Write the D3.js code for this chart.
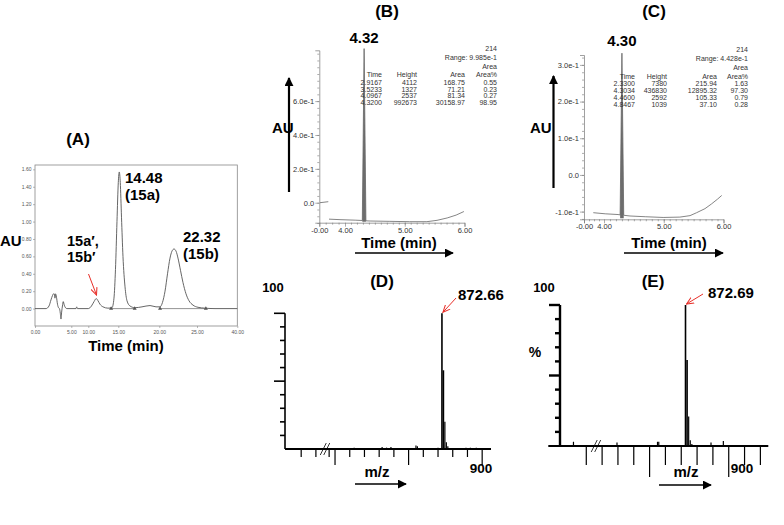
<!DOCTYPE html>
<html>
<head>
<meta charset="utf-8">
<script src="https://cdn.jsdelivr.net/npm/d3@7"></script>
<style>
  body { margin: 0; background: #fff; }
  svg { display: block; font-family: "Liberation Sans", Arial, sans-serif; }
</style>
</head>
<body>
<div id="graph"></div>
<script>
// Data ///////////////////////////////////////////////////////////////////////

// (A) preparative HPLC trace
const aTickTimes = [0, 5, 10, 15, 20, 25, 40];
const aTickAU = [0, 0.2, 0.4, 0.6, 0.8, 1.0, 1.2, 1.4, 1.6];
const aTime = [0, 1.52, 1.93, 2.2, 2.41, 2.55, 2.69, 2.75, 2.82, 2.96, 3.1, 3.24, 3.37, 3.48, 3.58, 3.67, 3.78, 3.89, 4.03, 4.2, 4.41,
  6.38, 6.59, 6.79, 10, 10.53, 10.95, 11.33, 11.62, 11.95, 12.45, 13.28, 13.95, 14.28, 14.53, 14.78, 15.0, 15.12, 15.24, 15.39,
  15.57, 15.82, 16.06, 16.43, 17.04, 17.89, 18.87, 19.6, 20.09, 20.42, 20.76, 21.09, 21.42, 21.68, 21.95, 22.22, 22.48, 22.81,
  23.14, 23.54, 23.94, 24.47, 25.37, 27.98, 31.7, 40];
const aAU = [0, 0, 0.03, 0.1, 0.15, 0.17, 0.165, 0.12, 0.17, 0.13, 0.05, 0.01, 0, -0.05, -0.12, -0.04, 0.03, 0.08, 0.04, 0.01, 0,
  0, 0.02, 0, 0, 0.03, 0.08, 0.115, 0.09, 0.05, 0.02, 0.005, 0.01, 0.12, 0.45, 1.0, 1.45, 1.57, 1.45, 1.05,
  0.6, 0.25, 0.09, 0.03, 0.01, 0.02, 0.035, 0.02, 0.02, 0.07, 0.2, 0.4, 0.58, 0.66, 0.685, 0.66, 0.58, 0.44,
  0.3, 0.17, 0.09, 0.04, 0.015, 0.005, 0, 0];
const aIntegration = [[13.8, 17.0], [20.1, 28.3]];

// (B) analytical HPLC of 15a
const bTickTimes = [0, 4, 5, 6];
const bTickTimeLabels = ["-0.00", "4.00", "5.00", "6.00"];
const bTickAU = [0, 0.2, 0.4, 0.6];
const bTickAULabels = ["0.0", "2.0e-1", "4.0e-1", "6.0e-1"];
const bTime = [1.51, 3.22, 4.17, 4.29, 4.32, 4.35, 4.42, 4.75, 5.08, 5.37, 5.54, 5.71, 5.86, 5.99];
const bAU = [-0.097, -0.1, -0.103, -0.105, 0.91, -0.107, -0.108, -0.11, -0.112, -0.112, -0.104, -0.09, -0.073, -0.052];
const bStubTime = [0.1, 1.4];
const bStubAU = [0.0, 0.006];
const bHeader = ["214", "Range: 9.985e-1"];
const bRowTime = ["2.9167", "3.5233", "4.0967", "4.3200"];
const bRowHeight = ["4112", "1327", "2537", "992673"];
const bRowArea = ["168.75", "71.21", "81.34", "30158.97"];
const bRowPct = ["0.55", "0.23", "0.27", "98.95"];

// (C) analytical HPLC of 15b
const cTickTimes = [0, 4, 5, 6];
const cTickTimeLabels = ["-0.00", "4.00", "5.00", "6.00"];
const cTickAU = [-0.1, 0, 0.1, 0.2, 0.3];
const cTickAULabels = ["-1.0e-1", "0.0", "1.0e-1", "2.0e-1", "3.0e-1"];
const cTime = [1.86, 4.02, 4.235, 4.27, 4.30, 4.33, 4.435, 4.69, 4.99, 5.27, 5.44, 5.55, 5.69, 5.8, 5.9, 5.97];
const cAU = [-0.103, -0.106, -0.108, -0.109, 0.332, -0.11, -0.112, -0.114, -0.116, -0.115, -0.111, -0.103, -0.092, -0.079, -0.066, -0.056];
const cHeader = ["214", "Range: 4.428e-1"];
const cRowTime = ["2.3300", "4.3034", "4.4600", "4.8467"];
const cRowHeight = ["7380", "436830", "2592", "1039"];
const cRowArea = ["215.94", "12895.32", "105.33", "37.10"];
const cRowPct = ["1.63", "97.30", "0.79", "0.28"];

// (D) mass spectrum of 15a
const dMz = [813, 832, 835, 838, 855, 856, 870, 872.66, 873.66, 874.66, 875.66, 876.66, 889, 892, 896];
const dInt = [1, 1.5, 1, 1.5, 2.5, 2, 1, 100, 58, 20, 5, 2, 1, 1, 1];
const dTicks = [777, 787, 796, 800, 810, 820, 830, 840, 850, 860, 870, 880, 890, 900];
const dLongTicks = [800, 850, 900];

// (E) mass spectrum of 15b
const eMz = [801.9, 829.4, 855, 855.8, 872.69, 873.69, 874.69, 875.69, 876.69, 888.8, 896.6];
const eInt = [3, 2.5, 3, 3, 100, 61, 21, 4, 1.5, 2.5, 3.5];
const eTicks = [810, 820, 830, 840, 850, 860, 870, 880, 890, 900, 910, 920];
const eLongTicks = [850, 900];

// Containers /////////////////////////////////////////////////////////////////
const svgWidth = 784;
const svgHeight = 525;
const red = "#e8302a";

const svg = d3
  .select("#graph")
  .append("svg")
  .attr("width", svgWidth)
  .attr("height", svgHeight);

svg.append("rect").attr("width", svgWidth).attr("height", svgHeight).attr("fill", "#fff");

const defs = svg.append("defs");
defs.append("marker")
  .attr("id", "blackHead")
  .attr("viewBox", "0 0 10 10")
  .attr("refX", 9)
  .attr("refY", 5)
  .attr("markerUnits", "userSpaceOnUse")
  .attr("markerWidth", 9)
  .attr("markerHeight", 9)
  .attr("orient", "auto")
  .append("path")
  .attr("d", "M0,0 L10,5 L0,10 Z")
  .attr("fill", "#000");

defs.append("marker")
  .attr("id", "redHead")
  .attr("viewBox", "0 0 10 10")
  .attr("refX", 9)
  .attr("refY", 5)
  .attr("markerUnits", "userSpaceOnUse")
  .attr("markerWidth", 8)
  .attr("markerHeight", 8)
  .attr("orient", "auto")
  .append("path")
  .attr("d", "M0,1 L9,5 L0,9")
  .attr("fill", "none")
  .attr("stroke", red)
  .attr("stroke-width", 1.3);

const bX = d3.scaleLinear().domain([0, 4, 6]).range([319.3, 345, 464.5]);
const bY = d3.scaleLinear().domain([-0.118, 0.9]).range([222.7, 50.3]);

drawPanelA();
drawChromatogram({
  x: bX, y: bY,
  tickTimes: bTickTimes, tickTimeLabels: bTickTimeLabels,
  tickAU: bTickAU, tickAULabels: bTickAULabels, minorAU: 0.04,
  time: bTime, au: bAU, peakIndex: 4,
  header: bHeader, rows: [bRowTime, bRowHeight, bRowArea, bRowPct],
  cols: [382, 417, 465, 497], tableTop: 50.5,
  title: "(B)", titleX: 387, peakLabel: "4.32", peakLabelY: 43,
  auX: 272, auArrowX: 289, auArrowY: [192, 78], timeX: 399, timeY: 248, timeArrow: [355, 453, 253]
});
svg.append("path")
  .datum(d3.zip(bStubTime, bStubAU))
  .attr("d", d3.line(d => bX(d[0]), d => bY(d[1])))
  .attr("fill", "none")
  .attr("stroke", "#666")
  .attr("stroke-width", 0.8);

drawChromatogram({
  x: d3.scaleLinear().domain([0, 4, 6]).range([584, 604, 723.5]),
  y: d3.scaleLinear().domain([-0.121, 0.327]).range([219.3, 55]),
  tickTimes: cTickTimes, tickTimeLabels: cTickTimeLabels,
  tickAU: cTickAU, tickAULabels: cTickAULabels, minorAU: 0.02,
  time: cTime, au: cAU, peakIndex: 4,
  header: cHeader, rows: [cRowTime, cRowHeight, cRowArea, cRowPct],
  cols: [635, 667, 717, 748], tableTop: 52,
  title: "(C)", titleX: 654, peakLabel: "4.30", peakLabelY: 46,
  auX: 530, auArrowX: 553.5, auArrowY: [188, 76], timeX: 669, timeY: 248, timeArrow: [624, 723, 253]
});

drawSpectrum({
  x: d3.scaleLinear().domain([766, 906]).range([285, 491]),
  y: d3.scaleLinear().domain([0, 100]).range([449, 313.3]),
  mz: dMz, intensity: dInt, ticks: dTicks, longTicks: dLongTicks,
  shortLen: 8, longLen: 16, axisLeftX: 285, axisW: 1.6, breakMz: 792,
  title: "(D)", titleX: 382, label: "872.66", labelX: 458, labelY: 300,
  arrowFrom: [456, 298], hundredX: 273, pctX: null, mzX: 377, nineX: 481, mzArrow: [355, 406, 484]
});

drawSpectrum({
  x: d3.scaleLinear().domain([786, 925]).range([548.3, 768.3]),
  y: d3.scaleLinear().domain([0, 100]).range([446, 305]),
  mz: eMz, intensity: eInt, ticks: eTicks, longTicks: eLongTicks,
  shortLen: 19, longLen: 31, axisLeftX: 560, axisW: 2.4, breakMz: 815,
  title: "(E)", titleX: 653, label: "872.69", labelX: 708, labelY: 298,
  arrowFrom: [703, 294], hundredX: 544, pctX: 535, mzX: 686, nineX: 742, mzArrow: [659, 711, 485]
});

// Draw functions /////////////////////////////////////////////////////////////
function drawPanelA() {
  const x = d3.scaleLinear().domain(aTickTimes).range([35, 71.3, 88.3, 118.3, 159.3, 197, 237.3]);
  const y = d3.scaleLinear().domain([-0.2, 1.65]).range([326, 165]);
  const g = svg.append("g");

  g.append("rect")
    .attr("x", 35).attr("y", 165)
    .attr("width", 202.3).attr("height", 161)
    .attr("fill", "none")
    .attr("stroke", "#888")
    .attr("stroke-width", 0.8);

  const yAxis = g.append("g")
    .attr("transform", "translate(35,0)")
    .call(d3.axisLeft(y).tickValues(aTickAU).tickFormat(d3.format(".2f")).tickSize(2).tickPadding(1.5));
  const xAxis = g.append("g")
    .attr("transform", "translate(0,326)")
    .call(d3.axisBottom(x).tickValues(aTickTimes).tickFormat(d3.format(".2f")).tickSize(2).tickPadding(2));
  [yAxis, xAxis].forEach(ax => {
    ax.select(".domain").remove();
    ax.selectAll("line").attr("stroke", "#888").attr("stroke-width", 0.6);
    ax.selectAll("text").attr("font-size", 5).attr("fill", "#555").attr("font-family", "Liberation Sans, Arial");
  });

  g.append("path")
    .datum(d3.zip(aTime, aAU))
    .attr("d", d3.line(d => x(d[0]), d => y(d[1])).curve(d3.curveMonotoneX))
    .attr("fill", "none")
    .attr("stroke", "#555")
    .attr("stroke-width", 0.9);

  aIntegration.forEach(seg => {
    g.append("line")
      .attr("x1", x(seg[0])).attr("x2", x(seg[1]))
      .attr("y1", y(0)).attr("y2", y(0))
      .attr("stroke", "#666").attr("stroke-width", 0.7);
    seg.forEach(t => {
      g.append("path")
        .attr("transform", `translate(${x(t)},${y(0)})`)
        .attr("d", d3.symbol(d3.symbolTriangle, 7)())
        .attr("fill", "#555");
    });
  });

  boldText(g, "(A)", 78, 145, 17, "middle");
  boldText(g, "AU", 0, 246, 15, "start");
  boldText(g, "14.48", 125, 183, 15, "start");
  boldText(g, "(15a)", 125, 200, 15, "start");
  boldText(g, "22.32", 183, 242, 15, "start");
  boldText(g, "(15b)", 183, 259, 15, "start");
  boldText(g, "15a\u2032,", 67, 245.5, 14.5, "start");
  boldText(g, "15b\u2032", 67, 262, 14.5, "start");
  boldText(g, "Time (min)", 126, 351, 15, "middle");

  g.append("line")
    .attr("x1", 88.5).attr("y1", 274)
    .attr("x2", 96.5).attr("y2", 295)
    .attr("stroke", red).attr("stroke-width", 1)
    .attr("marker-end", "url(#redHead)");
}

function drawChromatogram(c) {
  const g = svg.append("g");
  const { x, y } = c;
  const x0 = x.range()[0];
  const yBottom = y.range()[0];

  // axes
  const yAxis = g.append("g")
    .attr("transform", `translate(${x0},0)`)
    .call(d3.axisLeft(y).tickValues(c.tickAU).tickFormat((d, i) => c.tickAULabels[i]).tickSize(4).tickPadding(1));
  g.append("g")
    .attr("transform", `translate(${x0},0)`)
    .call(d3.axisLeft(y).tickValues(d3.range(y.domain()[0] + 0.001, y.domain()[1], c.minorAU).map(v => Math.round(v / c.minorAU) * c.minorAU)).tickFormat("").tickSize(2))
    .select(".domain").remove();
  const xAxis = g.append("g")
    .attr("transform", `translate(0,${yBottom})`)
    .call(d3.axisBottom(x).tickValues(c.tickTimes).tickFormat((d, i) => c.tickTimeLabels[i]).tickSize(4).tickPadding(0.5));
  g.append("g")
    .attr("transform", `translate(0,${yBottom})`)
    .call(d3.axisBottom(x).tickValues([1, 2, 3].concat(d3.range(41, 60).map(v => v / 10))).tickFormat("").tickSize(2))
    .select(".domain").remove();
  g.selectAll(".tick line").attr("stroke", "#777").attr("stroke-width", 0.6);
  [yAxis, xAxis].forEach(ax => {
    ax.select(".domain").attr("stroke", "#777").attr("stroke-width", 0.7);
    ax.selectAll("text").attr("font-size", 7.5).attr("fill", "#333").attr("font-family", "Liberation Sans, Arial");
  });

  // trace and peak
  const pts = d3.zip(c.time, c.au);
  const spike = pts.slice(c.peakIndex - 1, c.peakIndex + 2);
  g.append("path")
    .datum(spike)
    .attr("d", d3.area(d => x(d[0]), yBottom - 1, d => y(d[1])))
    .attr("fill", "#6d6d6d");
  g.append("path")
    .datum(pts)
    .attr("d", d3.line(d => x(d[0]), d => y(d[1])))
    .attr("fill", "none")
    .attr("stroke", "#666")
    .attr("stroke-width", 0.8);

  // table
  const tx = c.cols[3];
  const tf = 7;
  const lh = 7.6;
  plainText(g, c.header[0], tx, c.tableTop, tf, "end");
  plainText(g, c.header[1], tx, c.tableTop + lh * 1.2, tf, "end");
  plainText(g, "Area", tx, c.tableTop + lh * 2.4, tf, "end");
  ["Time", "Height", "Area", "Area%"].forEach((h, j) => plainText(g, h, c.cols[j], c.tableTop + lh * 3.5, tf, "end"));
  c.rows.forEach((col, j) => {
    col.forEach((v, i) => plainText(g, v, c.cols[j], c.tableTop + lh * (4.5 + i * 0.9), tf, "end"));
  });

  // labels
  boldText(g, c.title, c.titleX, 17, 17, "middle");
  boldText(g, c.peakLabel, x(c.time[c.peakIndex]), c.peakLabelY, 15, "middle");
  boldText(g, "AU", c.auX, 133, 15, "start");
  boldText(g, "Time (min)", c.timeX, c.timeY, 15, "middle");

  g.append("line")
    .attr("x1", c.auArrowX).attr("x2", c.auArrowX)
    .attr("y1", c.auArrowY[0]).attr("y2", c.auArrowY[1])
    .attr("stroke", "#000").attr("stroke-width", 2.2)
    .attr("marker-end", "url(#blackHead)");
  g.append("line")
    .attr("x1", c.timeArrow[0]).attr("x2", c.timeArrow[1])
    .attr("y1", c.timeArrow[2]).attr("y2", c.timeArrow[2])
    .attr("stroke", "#000").attr("stroke-width", 1.6)
    .attr("marker-end", "url(#blackHead)");
}

function drawSpectrum(s) {
  const g = svg.append("g");
  const { x, y } = s;
  const y0 = y.range()[0];
  const yTop = y.range()[1];

  // peaks
  g.selectAll(".peak")
    .data(d3.zip(s.mz, s.intensity))
    .join("line")
    .attr("class", "peak")
    .attr("x1", d => x(d[0])).attr("x2", d => x(d[0]))
    .attr("y1", y0).attr("y2", d => y(d[1]))
    .attr("stroke", "#000")
    .attr("stroke-width", d => d[1] > 50 ? 1.6 : 1.2);

  // y axis
  g.append("line")
    .attr("x1", s.axisLeftX).attr("x2", s.axisLeftX)
    .attr("y1", y0).attr("y2", yTop)
    .attr("stroke", "#000").attr("stroke-width", s.axisW);
  g.selectAll(".ytick")
    .data(d3.range(10, 101, 10))
    .join("line")
    .attr("x1", d => s.axisLeftX - (d === 100 || d === 50 ? 11 : 5))
    .attr("x2", s.axisLeftX)
    .attr("y1", d => y(d)).attr("y2", d => y(d))
    .attr("stroke", "#000").attr("stroke-width", s.axisW);

  // x axis
  g.append("line")
    .attr("x1", x.range()[0]).attr("x2", x.range()[1])
    .attr("y1", y0).attr("y2", y0)
    .attr("stroke", "#000").attr("stroke-width", 2);
  g.selectAll(".xtick")
    .data(s.ticks)
    .join("line")
    .attr("x1", d => x(d)).attr("x2", d => x(d))
    .attr("y1", y0)
    .attr("y2", d => y0 + (s.longTicks.includes(d) ? s.longLen : s.shortLen))
    .attr("stroke", "#000").attr("stroke-width", 1.2);

  // axis break
  [0, 3.5].forEach(off => {
    g.append("line")
      .attr("x1", x(s.breakMz) + off - 3).attr("y1", y0 + 6)
      .attr("x2", x(s.breakMz) + off + 3).attr("y2", y0 - 6)
      .attr("stroke", "#000").attr("stroke-width", 0.8);
  });

  // labels
  boldText(g, s.title, s.titleX, 287, 17, "middle");
  boldText(g, "100", s.hundredX, 292, 13, "middle");
  if (s.pctX) boldText(g, "%", s.pctX, 357, 14, "middle");
  boldText(g, s.label, s.labelX, s.labelY, 15, "start");
  boldText(g, "900", s.nineX, 473, 13.5, "middle");
  boldText(g, "m/z", s.mzX, 477, 15, "middle");

  const peakX = x(s.mz[s.intensity.indexOf(100)]);
  g.append("line")
    .attr("x1", s.arrowFrom[0]).attr("y1", s.arrowFrom[1])
    .attr("x2", peakX + 1).attr("y2", yTop - 1)
    .attr("stroke", red).attr("stroke-width", 1)
    .attr("marker-end", "url(#redHead)");
  g.append("line")
    .attr("x1", s.mzArrow[0]).attr("x2", s.mzArrow[1])
    .attr("y1", s.mzArrow[2]).attr("y2", s.mzArrow[2])
    .attr("stroke", "#000").attr("stroke-width", 1.6)
    .attr("marker-end", "url(#blackHead)");
}

// Utils //////////////////////////////////////////////////////////////////////
function boldText(g, text, x, y, size, anchor) {
  return g.append("text")
    .attr("x", x).attr("y", y)
    .attr("font-size", size)
    .attr("font-weight", "bold")
    .attr("text-anchor", anchor)
    .text(text);
}

function plainText(g, text, x, y, size, anchor) {
  return g.append("text")
    .attr("x", x).attr("y", y)
    .attr("font-size", size)
    .attr("fill", "#333")
    .attr("text-anchor", anchor)
    .text(text);
}
</script>
</body>
</html>
